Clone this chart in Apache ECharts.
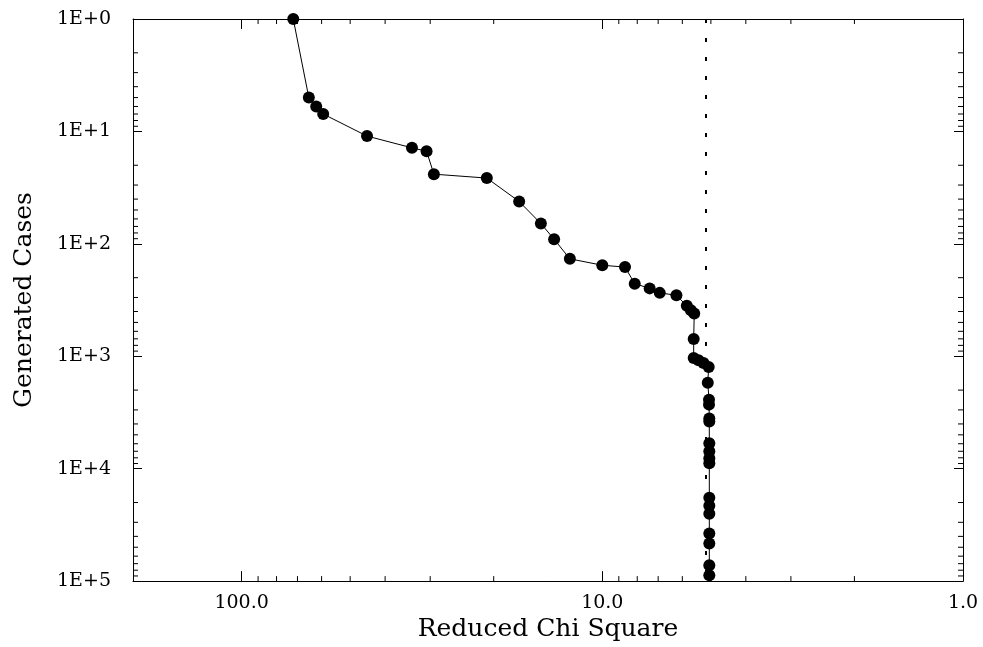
<!DOCTYPE html>
<html>
<head>
<meta charset="utf-8">
<script src="https://cdn.jsdelivr.net/npm/echarts@6/dist/echarts.min.js"></script>
<style>
html,body{margin:0;padding:0;background:#fff;}
#main{width:983px;height:647px;}
</style>
</head>
<body>
<div id="main"></div>
<script>
// ---- data ----
const chiSquare = [71.9, 65.1, 62.1, 59.4, 44.9, 33.7, 30.7, 29.3, 20.9, 17.0, 14.8, 13.6, 12.3, 10.0, 8.65, 8.13, 7.39, 6.93, 6.23, 5.83, 5.68, 5.56, 5.58, 5.58, 5.41, 5.24, 5.07, 5.10, 5.06, 5.06, 5.05, 5.05, 5.05, 5.05, 5.05, 5.05, 5.05, 5.05, 5.05, 5.05, 5.05, 5.05, 5.05];
const generatedCases = [1, 5, 6, 7, 11, 14, 15, 24, 26, 42, 66, 91, 136, 155, 161, 226, 249, 273, 287, 356, 389, 416, 701, 1037, 1087, 1148, 1245, 1722, 2434, 2693, 3580, 3803, 5946, 6995, 8058, 8928, 18160, 21370, 25130, 37740, 46230, 72270, 88500];
const referenceChi = 5.15;

const xTickValues = [100, 10, 1];
const xTickLabels = ['100.0', '10.0', '1.0'];
const yTickValues = [1, 10, 100, 1000, 10000, 100000];
const yTickLabels = ['1E+0', '1E+1', '1E+2', '1E+3', '1E+4', '1E+5'];
const xMinorTicks = [2, 3, 4, 5, 6, 7, 8, 9, 20, 30, 40, 50, 60, 70, 80, 90];
const yMinorTicks = [2, 3, 4, 5, 6, 7, 8, 9, 20, 30, 40, 50, 60, 70, 80, 90, 200, 300, 400, 500, 600, 700, 800, 900, 2000, 3000, 4000, 5000, 6000, 7000, 8000, 9000, 20000, 30000, 40000, 50000, 60000, 70000, 80000, 90000];

const xRange = [1, 200];
const yRange = [1, 100000];

const FONT = 'DejaVu Serif';

function lookupLabel(values, labels) {
  return function (v) {
    for (let i = 0; i < values.length; i++) {
      if (Math.abs(Math.log10(v) - Math.log10(values[i])) < 1e-6) return labels[i];
    }
    return '';
  };
}

const points = chiSquare.map((x, i) => [x, generatedCases[i]]);

const chart = echarts.init(document.getElementById('main'), null, {renderer: 'canvas'});

const MINOR = 5;

const baseX = {
  type: 'log', logBase: 10, min: xRange[0], max: xRange[1], inverse: true,
  splitLine: {show: false},
  axisLine: {show: true, lineStyle: {color: '#000', width: 1}},
  axisTick: {show: true, inside: true, length: 10, lineStyle: {color: '#000', width: 1}}
};
const baseY = {
  type: 'log', logBase: 10, min: yRange[0], max: yRange[1], inverse: true,
  splitLine: {show: false},
  axisLine: {show: true, lineStyle: {color: '#000', width: 1}},
  axisTick: {show: true, inside: true, length: 9, lineStyle: {color: '#000', width: 1}}
};

chart.setOption({
  animation: false,
  backgroundColor: '#fff',
  grid: {left: 133, right: 20, top: 19, bottom: 61, containLabel: false},
  xAxis: [
    Object.assign({}, baseX, {
      position: 'bottom',
      name: 'Reduced Chi Square', nameLocation: 'middle', nameGap: 32,
      nameTextStyle: {fontFamily: FONT, fontSize: 25, color: '#000'},
      axisLabel: {show: true, margin: 12, fontFamily: FONT, fontSize: 19, color: '#000',
        formatter: lookupLabel(xTickValues, xTickLabels), showMaxLabel: false}
    }),
    Object.assign({}, baseX, {position: 'top', axisLabel: {show: false}})
  ],
  yAxis: [
    Object.assign({}, baseY, {
      position: 'left',
      name: 'Generated Cases', nameLocation: 'middle', nameGap: 96, nameRotate: 90,
      nameTextStyle: {fontFamily: FONT, fontSize: 25, color: '#000'},
      axisLabel: {show: true, margin: 22, fontFamily: FONT, fontSize: 19, color: '#000',
        formatter: lookupLabel(yTickValues, yTickLabels)}
    }),
    Object.assign({}, baseY, {position: 'right', axisLabel: {show: false}})
  ],
  series: [
    {
      type: 'line',
      xAxisIndex: 0, yAxisIndex: 0,
      data: points,
      symbol: 'circle', symbolSize: 12,
      itemStyle: {color: '#000'},
      lineStyle: {color: '#000', width: 1},
      z: 5,
      markLine: {
        silent: true,
        symbol: ['none', 'none'],
        label: {show: false},
        lineStyle: {color: '#000', width: 2, type: [4, 15]},
        data: [{xAxis: referenceChi}]
      }
    },
    {
      type: 'custom',
      xAxisIndex: 0, yAxisIndex: 0,
      silent: true,
      clip: false,
      data: xMinorTicks.map(v => [v, 1]),
      encode: {x: 0, y: 1},
      renderItem: function (params, api) {
        const cs = params.coordSys;
        const px = api.coord([api.value(0), 1])[0];
        const bottom = cs.y + cs.height, top = cs.y;
        return {type: 'group', children: [
          {type: 'line', shape: {x1: px, y1: bottom, x2: px, y2: bottom - MINOR}, style: {stroke: '#000', lineWidth: 1}},
          {type: 'line', shape: {x1: px, y1: top, x2: px, y2: top + MINOR}, style: {stroke: '#000', lineWidth: 1}}
        ]};
      }
    },
    {
      type: 'custom',
      xAxisIndex: 0, yAxisIndex: 0,
      silent: true,
      clip: false,
      data: yMinorTicks.map(v => [1, v]),
      encode: {x: 0, y: 1},
      renderItem: function (params, api) {
        const cs = params.coordSys;
        const py = api.coord([1, api.value(1)])[1];
        const left = cs.x, right = cs.x + cs.width;
        return {type: 'group', children: [
          {type: 'line', shape: {x1: left, y1: py, x2: left + MINOR, y2: py}, style: {stroke: '#000', lineWidth: 1}},
          {type: 'line', shape: {x1: right, y1: py, x2: right - MINOR, y2: py}, style: {stroke: '#000', lineWidth: 1}}
        ]};
      }
    }
  ]
});
</script>
</body>
</html>
